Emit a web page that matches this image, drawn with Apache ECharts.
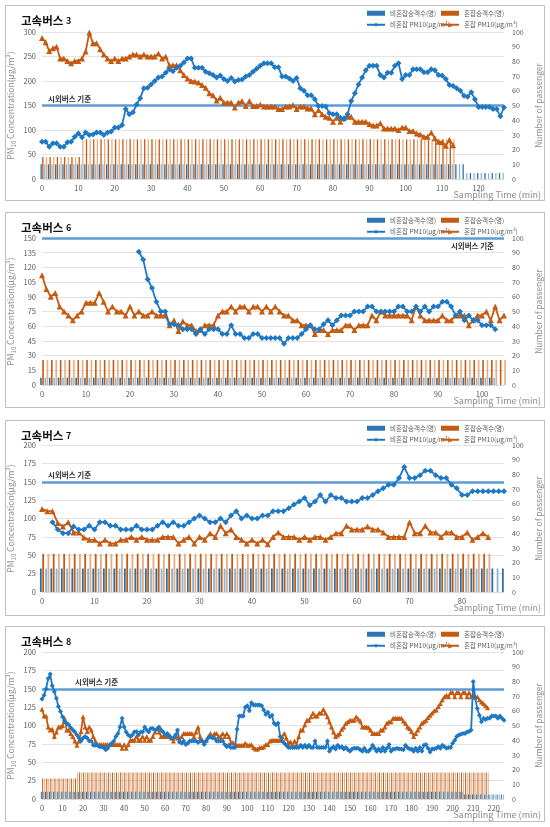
<!DOCTYPE html>
<html><head><meta charset="utf-8">
<script src="https://cdn.jsdelivr.net/npm/echarts@6/dist/echarts.min.js"></script>
<style>html,body{margin:0;padding:0;background:#fff}#c{width:550px;height:827px}</style>
</head><body><div id="c"></div>
<script>
// ---------- names ----------
const nameBarBlue = '비혼잡승객수(명)';
const nameBarOrange = '혼잡승객수(명)';
const nameLineBlue = '비혼잡 PM10(μg/m³)';
const nameLineOrange = '혼잡 PM10(μg/m³)';
const refLineText = '시외버스 기준';
const panelTitleNumbers = ['3', '6', '7', '8'];
const leftAxisMax = [300, 150, 200, 200];
const leftAxisStep = [50, 15, 25, 25];
const rightAxisMax = 100, rightAxisStep = 10;
const xAxisMax = [127, 105, 88, 225];
const xAxisStep = 10;
const refLevel = 150;

// ---------- 고속버스 3 ----------
const bus3BlueStart = 0;
const bus3Blue = [
76,76,66,73,73,66,66,75,76,86,
93,85,95,90,91,95,95,90,95,97,
105,105,110,143,132,136,152,165,185,186,
193,200,207,209,217,224,220,227,231,238,
246,246,227,227,227,219,216,212,207,211,
204,200,206,199,202,203,209,212,219,225,
231,236,236,236,228,228,209,209,205,200,
206,185,180,171,171,163,149,149,148,134,
132,132,125,122,132,159,175,193,207,222,
231,231,231,212,207,217,217,231,236,204,
212,212,224,224,224,218,218,224,222,212,
211,204,192,190,185,180,170,168,177,163,
147,147,147,147,143,143,128,146];
const bus3OrangeStart = 0;
const bus3Orange = [
288,279,261,267,270,246,246,241,236,241,
241,246,260,299,277,277,265,254,246,241,
246,241,246,246,250,254,254,250,254,250,
250,250,256,246,250,232,232,232,222,212,
205,200,199,197,192,186,175,171,160,166,
156,156,156,146,156,159,149,159,149,149,
152,148,148,148,148,143,143,148,148,151,
143,148,148,144,144,132,141,132,127,125,
117,125,117,125,127,127,117,117,117,117,
112,109,109,114,103,103,103,103,100,105,
105,98,98,93,91,86,86,95,83,76,
75,68,80,69];
const bus3PaxBlue = [
10,10,10,10,10,10,10,10,10,10,
10,10,10,10,10,10,10,10,10,10,
10,10,10,10,10,10,10,10,10,10,
10,10,10,10,10,10,10,10,10,10,
10,10,10,10,10,10,10,10,10,10,
10,10,10,10,10,10,10,10,10,10,
10,10,10,10,10,10,10,10,10,10,
10,10,10,10,10,10,10,10,10,10,
10,10,10,10,10,10,10,10,10,10,
10,10,10,10,10,10,10,10,10,10,
10,10,10,10,10,10,10,10,10,10,
10,10,10,10,10,10,10,
4,4,4,4,4,4,4,4,4,4,4];
const bus3PaxOrange = [
15,15,15,15,15,15,15,15,15,15,15,
27,27,27,27,27,27,27,27,27,27,
27,27,27,27,27,27,27,27,27,27,
27,27,27,27,27,27,27,27,27,27,
27,27,27,27,27,27,27,27,27,27,
27,27,27,27,27,27,27,27,27,27,
27,27,27,27,27,27,27,27,27,27,
27,27,27,27,27,27,27,27,27,27,
27,27,27,27,27,27,27,27,27,27,
27,27,27,27,27,27,27,27,27,27,
27,27,27,27,27,27,27,27,27,27,
27,27,27];

// ---------- 고속버스 6 ----------
const bus6BlueStart = 22;
const bus6Blue = [
136,128,108,99,85,75,75,62,62,61,
57,57,57,52,57,52,57,57,57,52,
52,61,52,52,48,48,52,52,48,48,
48,48,48,42,48,48,48,52,57,61,
57,57,62,66,61,66,71,71,71,75,
75,75,80,80,75,75,75,75,75,80,
80,75,75,80,75,80,75,80,80,85,
85,80,71,75,66,71,66,66,61,61,
61,57];
const bus6OrangeStart = 0;
const bus6Orange = [
112,98,90,94,80,75,71,66,71,75,
84,84,84,94,85,75,80,75,75,71,
80,71,75,71,71,75,71,71,71,61,
66,55,65,61,61,55,56,61,61,61,
71,75,75,80,75,80,80,75,80,80,
75,80,75,80,75,71,71,66,66,61,
61,61,52,56,56,52,56,56,56,61,
61,56,61,61,61,71,66,75,71,71,
71,71,71,71,66,80,71,66,66,66,
66,71,66,66,71,71,71,61,66,71,
71,75,66,80,66,71];
const bus6PaxBlue = [
5,5,5,5,5,5,5,5,5,5,
5,5,5,5,5,5,5,5,5,5,
5,5,5,5,5,5,5,5,5,5,
5,5,5,5,5,5,5,5,5,5,
5,5,5,5,5,5,5,5,5,5,
5,5,5,5,5,5,5,5,5,5,
5,5,5,5,5,5,5,5,5,5,
5,5,5,5,5,5,5,5,5,5,
5,5,5,5,5,5,5,5,5,5,
5,5,5,5,5,5,5,5,5,5,
5,5,5,5];
const bus6PaxOrange = [
17,17,17,17,17,17,17,17,17,17,
17,17,17,17,17,17,17,17,17,17,
17,17,17,17,17,17,17,17,17,17,
17,17,17,17,17,17,17,17,17,17,
17,17,17,17,17,17,17,17,17,17,
17,17,17,17,17,17,17,17,17,17,
17,17,17,17,17,17,17,17,17,17,
17,17,17,17,17,17,17,17,17,17,
17,17,17,17,17,17,17,17,17,17,
17,17,17,17,17,17,17,17,17,17,
17,17,17,17,17,17];

// ---------- 고속버스 7 ----------
const bus7BlueStart = 2;
const bus7Blue = [
95,85,80,80,89,85,85,90,85,95,
95,90,90,85,85,85,90,85,85,85,
90,95,90,95,90,90,95,100,104,100,
95,95,100,95,104,110,100,104,100,100,
104,104,110,110,110,114,119,123,128,118,
123,132,123,132,128,128,123,123,123,128,
128,132,137,141,146,146,155,170,155,155,
159,165,165,159,155,155,146,141,132,132,
137,137,137,137,137,137,137];
const bus7OrangeStart = 0;
const bus7Orange = [
113,110,110,94,89,95,81,81,74,71,
71,66,71,66,66,71,71,75,71,75,
71,71,71,75,75,75,66,71,75,66,
75,71,80,75,90,80,85,75,71,66,
71,66,71,65,75,81,75,75,75,71,
75,71,75,75,71,75,80,80,90,85,
85,85,89,85,85,81,75,75,75,75,
95,80,80,90,81,81,75,81,81,75,
75,81,71,75,80,75];
const bus7PaxBlue = [
16,16,16,16,16,16,16,16,16,16,
16,16,16,16,16,16,16,16,16,16,
16,16,16,16,16,16,16,16,16,16,
16,16,16,16,16,16,16,16,16,16,
16,16,16,16,16,16,16,16,16,16,
16,16,16,16,16,16,16,16,16,16,
16,16,16,16,16,16,16,16,16,16,
16,16,16,16,16,16,16,16,16,16,
16,16,16,16,16,16,16,16,16];
const bus7PaxOrange = [
26,26,26,26,26,26,26,26,26,26,
26,26,26,26,26,26,26,26,26,26,
26,26,26,26,26,26,26,26,26,26,
26,26,26,26,26,26,26,26,26,26,
26,26,26,26,26,26,26,26,26,26,
26,26,26,26,26,26,26,26,26,26,
26,26,26,26,26,26,26,26,26,26,
26,26,26,26,26,26,26,26,26,26,
26,26,26,26,26,26];

// ---------- 고속버스 8 ----------
const bus8BlueStart = 0;
const bus8Blue = [
136,141,150,164,170,154,146,137,126,119,
112,105,103,101,97,94,91,87,83,79,
83,85,83,79,79,73,73,73,71,71,
70,67,69,73,76,79,85,89,98,110,
98,91,87,85,87,91,92,87,91,91,
98,94,91,96,96,94,95,98,94,91,
87,89,86,83,83,87,94,78,76,79,
74,76,79,79,79,79,77,79,79,74,
79,83,85,83,83,79,79,79,79,74,
71,73,70,70,70,95,113,113,113,125,
127,120,131,128,128,128,128,127,121,115,
118,112,114,103,101,103,85,79,76,73,
70,70,70,70,70,70,73,70,73,70,
73,70,70,79,70,70,70,70,70,79,
65,69,71,68,73,70,71,68,70,67,
65,68,69,69,69,67,65,69,65,65,
68,73,69,65,68,65,70,65,69,74,
65,68,68,69,68,68,67,73,70,68,
68,65,69,65,70,65,73,74,69,64,
68,68,69,71,69,73,71,69,70,70,
76,80,85,87,88,89,89,91,92,94,
160,137,123,114,105,110,108,110,110,113,
113,113,110,113,110,107];
const bus8OrangeStart = 0;
const bus8Orange = [
122,113,113,98,94,95,85,91,98,98,
100,110,94,94,89,85,79,73,79,92,
112,98,92,98,94,85,79,74,74,74,
74,74,74,74,74,74,74,74,74,69,
74,69,74,80,80,80,85,80,80,85,
80,85,80,80,85,91,96,91,85,85,
85,85,85,83,79,85,83,79,85,89,
89,89,89,89,85,91,98,85,80,77,
80,85,89,85,89,89,85,85,89,85,
89,85,77,77,73,73,73,73,73,76,
73,73,74,70,68,68,70,70,71,74,
74,79,80,80,80,80,80,85,89,83,
76,78,73,79,74,85,94,94,101,107,
107,112,117,113,113,117,117,122,117,112,
105,98,91,85,87,89,95,98,103,105,
107,107,107,112,109,106,98,98,98,97,
94,89,89,89,89,94,94,98,103,105,
105,110,110,110,110,110,106,103,98,96,
92,85,89,94,98,103,105,107,111,114,
117,120,121,126,130,135,139,141,139,145,
145,139,145,145,139,145,145,139,145,139,
141,139,139,135,132,130,127,124];
const bus8PaxBlue = [
5,5,5,5,5,5,5,5,5,5,
5,5,5,5,5,5,5,5,5,5,
5,5,5,5,5,5,5,5,5,5,
5,5,5,5,5,5,5,5,5,5,
5,5,5,5,5,5,5,5,5,5,
5,5,5,5,5,5,5,5,5,5,
5,5,5,5,5,5,5,5,5,5,
5,5,5,5,5,5,5,5,5,5,
5,5,5,5,5,5,5,5,5,5,
5,5,5,5,5,5,5,5,5,5,
5,5,5,5,5,5,5,5,5,5,
5,5,5,5,5,5,5,5,5,5,
5,5,5,5,5,5,5,5,5,5,
5,5,5,5,5,5,5,5,5,5,
5,5,5,5,5,5,5,5,5,5,
5,5,5,5,5,5,5,5,5,5,
5,5,5,5,5,5,5,5,5,5,
5,5,5,5,5,5,5,5,5,5,
5,5,5,5,5,5,5,5,5,5,
5,5,5,5,5,5,5,5,5,5,
5,5,5,5,5,5,
3,3,3,3,3,3,3,3,3,3,
3,3,3,3,3,3,3,3,3,3];
const bus8PaxOrange = [
14,14,14,14,14,14,14,14,14,14,
14,14,14,14,14,14,14,
18,18,18,18,18,18,18,18,18,18,
18,18,18,18,18,18,18,18,18,18,
18,18,18,18,18,18,18,18,18,18,
18,18,18,18,18,18,18,18,18,18,
18,18,18,18,18,18,18,18,18,18,
18,18,18,18,18,18,18,18,18,18,
18,18,18,18,18,18,18,18,18,18,
18,18,18,18,18,18,18,18,18,18,
18,18,18,18,18,18,18,18,18,18,
18,18,18,18,18,18,18,18,18,18,
18,18,18,18,18,18,18,18,18,18,
18,18,18,18,18,18,18,18,18,18,
18,18,18,18,18,18,18,18,18,18,
18,18,18,18,18,18,18,18,18,18,
18,18,18,18,18,18,18,18,18,18,
18,18,18,18,18,18,18,18,18,18,
18,18,18,18,18,18,18,18,18,18,
18,18,18,18,18,18,18,18,18,18,
18,18,18,18,18,18,18,18,18,18,
18,18,18,18,18,18,18,18,18,18,
18];

// ---------- layout / style ----------
const panelTops = [5, 212, 420, 626];
const panelHeight = 195;
const plotTops = [32, 238, 445, 652];
const plotHeight = 147;
const plotLeft = 42, plotWidth = 462;
const refLabelPos = ['insideStartTop', 'insideEndBottom', 'insideStartTop', 'insideStartTop'];
const refLabelDist = [[6, 3], [10, 4], [6, 3], [33, 3]];
const barWidths = [1.3, 1.6, 1.8, 0.9];

const C = {
  blueLine: '#1f78c4', orangeLine: '#c55a11', ref: '#5b9bd5',
  blueBarDark: '#2f6e9e', blueBarLight: '#86b6dc',
  orangeBarDark: '#c55a11', orangeBarLight: '#e2ad86',
  text: '#595959', axisName: '#8c8c8c', grid: '#e3e3e3'
};
const FONT = '"Noto Sans CJK KR", "Noto Sans", sans-serif';

const panels = [
  {blue: bus3Blue, blueStart: bus3BlueStart, orange: bus3Orange, orangeStart: bus3OrangeStart, paxBlue: bus3PaxBlue, paxOrange: bus3PaxOrange},
  {blue: bus6Blue, blueStart: bus6BlueStart, orange: bus6Orange, orangeStart: bus6OrangeStart, paxBlue: bus6PaxBlue, paxOrange: bus6PaxOrange},
  {blue: bus7Blue, blueStart: bus7BlueStart, orange: bus7Orange, orangeStart: bus7OrangeStart, paxBlue: bus7PaxBlue, paxOrange: bus7PaxOrange},
  {blue: bus8Blue, blueStart: bus8BlueStart, orange: bus8Orange, orangeStart: bus8OrangeStart, paxBlue: bus8PaxBlue, paxOrange: bus8PaxOrange}
];

const toXY = (arr, start) => arr.map((v, i) => [start + i, v]);

const grid = [], xAxis = [], yAxis = [], series = [], legend = [], title = [], graphic = [];

panels.forEach((p, i) => {
  grid.push({left: plotLeft, width: plotWidth, top: plotTops[i], height: plotHeight,
    containLabel: false, outerBoundsMode: 'none'});
  // visible value axis (minutes) for lines
  xAxis.push({
    type: 'value', gridIndex: i, min: 0, max: xAxisMax[i], interval: xAxisStep,
    axisLine: {show: true, lineStyle: {color: '#d9d9d9'}},
    axisTick: {show: false}, splitLine: {show: false},
    axisLabel: {fontSize: 7.5, color: C.text, margin: 5, showMaxLabel: false}
  });
  // hidden category axis (one slot per minute) for passenger bars
  const minutes = [];
  for (let k = 0; k <= xAxisMax[i]; k++) minutes.push(k);
  xAxis.push({
    type: 'category', gridIndex: i, data: minutes, boundaryGap: false, show: false
  });
  yAxis.push({
    type: 'value', gridIndex: i, min: 0, max: leftAxisMax[i], interval: leftAxisStep[i],
    axisLine: {show: false}, axisTick: {show: false},
    axisLabel: {fontSize: 7.5, color: C.text, margin: 6},
    splitLine: {show: true, lineStyle: {color: C.grid, width: 1}},
    name: '{a|PM}{s|10}{a| Concentration(μg/m³)}', nameLocation: 'middle', nameGap: 25, nameRotate: 90,
    nameMoveOverlap: false,
    nameTextStyle: {rich: {a: {fontSize: 8.5, color: C.axisName, fontFamily: FONT}, s: {fontSize: 6, color: C.axisName, fontFamily: FONT, padding: [6, 0, 0, 0]}}}
  });
  yAxis.push({
    type: 'value', gridIndex: i, position: 'right', min: 0, max: rightAxisMax, interval: rightAxisStep,
    axisLine: {show: false}, axisTick: {show: false},
    axisLabel: {fontSize: 7, color: C.text, margin: 8},
    splitLine: {show: false},
    name: 'Number of passenger', nameLocation: 'middle', nameGap: 28, nameRotate: 90,
    nameTextStyle: {fontSize: 8.5, color: C.axisName}
  });
  const yl = 2 * i, yr = 2 * i + 1, xv = 2 * i, xc = 2 * i + 1;
  series.push({
    type: 'bar', name: nameBarBlue, xAxisIndex: xc, yAxisIndex: yr,
    data: p.paxBlue, barWidth: barWidths[i], barGap: '30%',
    itemStyle: {color: (q) => (q.dataIndex % 2 ? C.blueBarLight : C.blueBarDark)}, z: 3
  });
  series.push({
    type: 'bar', name: nameBarOrange, xAxisIndex: xc, yAxisIndex: yr,
    data: p.paxOrange, barWidth: barWidths[i], barGap: '30%',
    itemStyle: {color: (q) => (q.dataIndex % 2 ? C.orangeBarLight : C.orangeBarDark)}, z: 2
  });
  series.push({
    type: 'line', name: nameLineOrange, xAxisIndex: xv, yAxisIndex: yl,
    data: toXY(p.orange, p.orangeStart), symbol: 'triangle', symbolSize: i === 3 ? 5 : 6,
    lineStyle: {color: C.orangeLine, width: 1.8}, itemStyle: {color: C.orangeLine}, z: 5
  });
  series.push({
    type: 'line', name: nameLineBlue, xAxisIndex: xv, yAxisIndex: yl,
    data: toXY(p.blue, p.blueStart), symbol: 'diamond', symbolSize: i === 3 ? 5 : 6,
    lineStyle: {color: C.blueLine, width: 1.8}, itemStyle: {color: C.blueLine}, z: 6,
    markLine: {
      silent: true, symbol: ['none', 'none'], z: 4,
      lineStyle: {color: C.ref, width: 2.5, type: 'solid'},
      label: {show: true, formatter: refLineText, position: refLabelPos[i], distance: refLabelDist[i],
        fontSize: 7.5, fontWeight: 'bold', color: '#333', fontFamily: FONT},
      data: [{yAxis: refLevel}]
    }
  });
  const lgCommon = {orient: 'vertical', top: panelTops[i] + 5, itemGap: 5, itemWidth: 18, itemHeight: 5,
    selectedMode: false, textStyle: {fontSize: 6.5, color: C.text, fontFamily: FONT}, padding: 0};
  legend.push(Object.assign({left: 366, data: [
    {name: nameBarBlue, icon: 'rect', itemStyle: {color: '#2e75b6'}},
    {name: nameLineBlue}
  ]}, lgCommon));
  legend.push(Object.assign({left: 440, data: [
    {name: nameBarOrange, icon: 'rect', itemStyle: {color: C.orangeLine}},
    {name: nameLineOrange}
  ]}, lgCommon));
  title.push({
    text: '{a|고속버스 }{b|' + panelTitleNumbers[i] + '}', left: 16, top: panelTops[i] + 5,
    textStyle: {rich: {a: {fontSize: 11.5, fontWeight: 'bold', color: '#111', fontFamily: FONT},
      b: {fontSize: 9, fontWeight: 'bold', color: '#111', fontFamily: FONT}}}
  });
  graphic.push({type: 'rect', z: -10, silent: true,
    shape: {x: 5.5, y: panelTops[i] + 0.5, width: 539, height: panelHeight},
    style: {fill: '#fff', stroke: '#bfbfbf', lineWidth: 1}});
  graphic.push({type: 'text', silent: true,
    style: {text: 'Sampling Time (min)', x: 541, y: plotTops[i] + plotHeight + 16, align: 'right', verticalAlign: 'middle',
      fill: C.axisName, fontSize: 9, fontFamily: FONT}});
});

const chart = echarts.init(document.getElementById('c'), null, {renderer: 'canvas'});
chart.setOption({
  animation: false,
  backgroundColor: '#fff',
  textStyle: {fontFamily: FONT},
  title, legend, grid, xAxis, yAxis, series, graphic
});
</script>
</body></html>
